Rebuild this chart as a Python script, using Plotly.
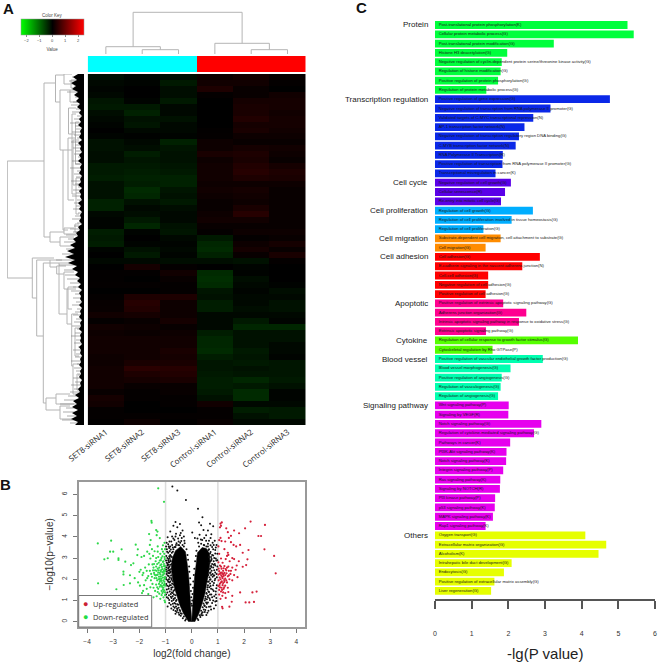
import plotly.graph_objects as go

W, H = 658, 663

# ---------- Panel C data ----------
group_names = ["Protein", "Transcription regulation", "Cell cycle", "Cell proliferation", "Cell migration",
               "Cell adhesion", "Apoptotic", "Cytokine", "Blood vessel", "Signaling pathway", "Others"]
group_colors = ["#00FF3C", "#0A28E8", "#5A00E8", "#00AEFF", "#FF8C00", "#FF0000",
                "#FF0090", "#55FF00", "#00FFB0", "#E600EE", "#E6FF00"]
protein_terms = ["Post-translational protein phosphorylation(K)", "Cellular protein metabolic process(G)",
                 "Post-translational protein modification(G)", "Histone H3 deacetylation(G)",
                 "Negative regulation of cyclin-dependent protein serine/threonine kinase activity(G)",
                 "Regulation of histone modification(G)", "Positive regulation of protein phosphorylation(G)",
                 "Regulation of protein metabolic process(G)"]
protein_vals = [5.25, 5.42, 3.24, 1.97, 1.82, 1.79, 1.72, 1.40]
transcription_terms = ["Positive regulation of gene expression(G)",
                       "Negative regulation of transcription from RNA polymerase II promoter(G)",
                       "Validated targets of C-MYC transcriptional repression(N)", "AP-1 transcription factor network(N)",
                       "Negative regulation of transcription regulatory region DNA binding(G)",
                       "C-MYB transcription factor network(N)", "RNA Polymerase II Transcription(R)",
                       "Positive regulation of transcription from RNA polymerase II promoter(G)",
                       "Transcriptional misregulation in cancer(K)"]
transcription_vals = [4.77, 3.15, 2.68, 2.44, 2.29, 2.20, 1.85, 1.84, 1.65]
cycle_terms = ["Negative regulation of cell growth(G)", "Cellular senescence(R)", "Re-entry into mitotic cell cycle(G)"]
cycle_vals = [2.07, 1.91, 1.80]
prolif_terms = ["Regulation of cell growth(G)", "Regulation of cell proliferation involved in tissue homeostasis(G)",
                "Regulation of cell proliferation(G)"]
prolif_vals = [2.67, 2.09, 1.32]
migration_terms = ["Substrate-dependent cell migration, cell attachment to substrate(G)", "Cell migration(G)"]
migration_vals = [1.79, 1.38]
adhesion_terms = ["Cell adhesion(G)", "E-cadherin signaling in the nascent adherens junction(N)", "Cell-cell adhesion(G)",
                  "Negative regulation of cell adhesion(G)", "Positive regulation of cell adhesion(G)"]
adhesion_vals = [2.86, 2.38, 1.45, 1.45, 1.38]
apoptotic_terms = ["Positive regulation of extrinsic apoptotic signaling pathway(G)", "Adherens junction organization(G)",
                   "Intrinsic apoptotic signaling pathway in response to oxidative stress(G)",
                   "Extrinsic apoptotic signaling pathway(G)"]
apoptotic_vals = [1.86, 2.49, 2.29, 1.39]
cytokine_terms = ["Regulation of cellular response to growth factor stimulus(G)", "Cytoskeletal regulation by Rho GTPase(P)"]
cytokine_vals = [3.90, 1.57]
vessel_terms = ["Positive regulation of vascular endothelial growth factor production(G)", "Blood vessel morphogenesis(G)",
                "Positive regulation of angiogenesis(G)", "Regulation of vasculogenesis(G)", "Regulation of angiogenesis(G)"]
vessel_vals = [2.94, 2.06, 1.82, 1.79, 1.72]
signaling_terms = ["Wnt signaling pathway(P)", "Signaling by VEGF(R)", "Notch signaling pathway(G)",
                   "Regulation of cytokine-mediated signaling pathway(G)", "Pathways in cancer(K)",
                   "PI3K-Akt signaling pathway(K)", "Notch signaling pathway(K)", "Integrin signaling pathway(P)",
                   "Ras signaling pathway(K)", "Signaling by NOTCH(R)", "PI3 kinase pathway(P)",
                   "p53 signaling pathway(K)", "MAPK signaling pathway(K)", "Rap1 signaling pathway(K)"]
signaling_vals = [2.01, 2.00, 2.90, 2.70, 2.05, 1.95, 1.94, 1.86, 1.78, 1.77, 1.64, 1.63, 1.58, 1.38]
others_terms = ["Oxygen transport(G)", "Extracellular matrix organization(G)", "Alcoholism(K)",
                "Intrahepatic bile duct development(G)", "Endocytosis(G)",
                "Positive regulation of extracellular matrix assembly(G)", "Liver regeneration(G)"]
others_vals = [4.10, 4.67, 4.46, 2.09, 1.88, 1.62, 1.53]

# ---------- Panel A data: one value per band of rows, top to bottom ----------
sample_names = ["SET8-siRNA1", "SET8-siRNA2", "SET8-siRNA3", "Control-siRNA1", "Control-siRNA2", "Control-siRNA3"]
set8_1 = [-.2,-.1,-.05,-.1,-.25,-.3,-.15,-.1,-.05,0,-.05,-.2,-.2,-.15,-.15,-.3,-.3,-.35,-.2,-.2,-.2,-.4,-.4,-.1,-.05,-.05,-.35,-.3,
          -.35,-.05,0,-.1,0,.03,.03,.05,0,.05,.08,.1,.2,.05,.2,.15,.2,.2,.2,.15,.15,.2,.2,.2,.2,.1,.25,.2,.05,.05,.02]
set8_2 = [-.1,-.05,0,0,-.05,-.3,-.4,-.2,-.25,-.1,-.02,-.1,-.15,-.35,-.25,-.3,-.35,-.4,-.35,-.5,-.45,-.2,-.1,-.15,-.3,-.45,-.05,0,
          -.05,-.2,-.3,-.1,.25,.03,0,.05,0,.35,.45,.4,.25,.1,.15,.12,.2,.2,.2,.2,.3,.5,.35,.25,.1,.05,.05,0,0,.05,.15]
set8_3 = [-.15,-.3,-.15,-.15,-.3,-.1,-.1,-.2,-.1,-.1,-.05,-.4,-.25,-.2,-.2,-.25,-.3,-.4,-.4,-.25,-.2,-.3,-.15,-.1,-.1,-.2,-.25,-.1,
          -.05,-.1,-.05,-.15,.05,.2,.1,.05,.05,.35,.15,.15,.15,.25,.1,.15,.2,.2,.3,.25,.3,.45,.4,.3,.1,.1,.05,.05,0,.05,.02]
ctrl_1 = [.15,.2,.35,.05,0,0,0,0,0,.03,.05,.15,.15,.3,.15,.2,.2,.2,.15,.2,.15,.1,.1,.15,.2,.1,.05,-.3,
          -.45,-.5,-.4,-.15,0,-.5,-.55,-.5,-.25,-.2,-.35,-.35,-.1,-.1,-.1,-.35,-.45,-.45,-.5,-.35,-.25,-.25,-.3,-.35,-.35,-.3,-.2,.2,.05,.05,.1]
ctrl_2 = [.25,.2,.1,.1,.25,.3,.3,.4,.25,.3,.15,.1,.25,.35,.3,.4,.45,.35,.15,.25,.2,.15,.3,.45,.2,.1,.15,.05,
          .15,.25,.1,-.2,-.05,-.03,-.15,-.1,-.05,-.1,-.1,-.15,-.1,-.3,-.45,-.2,-.2,-.2,-.3,-.25,-.3,-.2,-.25,-.45,-.3,-.5,-.5,-.1,-.35,-.2,-.1]
ctrl_3 = [.1,.05,0,.2,.25,.25,.2,.25,.25,.2,.15,.1,.2,.15,.1,.25,.35,.3,.15,.1,.1,.1,.1,.1,.1,.1,.15,.1,
          .25,.1,.3,.05,0,0,0,-.03,-.15,-.1,-.2,-.2,-.1,-.05,-.45,-.2,-.2,-.1,-.1,-.05,-.25,-.25,-.25,-.3,-.2,-.05,-.05,-.1,-.3,-.3,-.1]
group_flags = [0, 0, 0, 1, 1, 1]
key_ticks = [-2, -1, 0, 1, 2]

# column tree: left position, right position, merge height, left child height, right child height
col_merges = [(1, 2, 4.3, 0, 0), (0, 1.5, 7.3, 0, 4.3), (4, 5, 4.3, 0, 0), (3, 4.5, 10.7, 0, 4.3), (0.75, 3.75, 41.7, 7.3, 10.7)]
# row tree: merge height, upper position, lower position, upper child height, lower child height
row_merges = [(76.7,87,204,40,51.7),(40,9,163,28.5,34),(28.5,1,28,20,24),(24,16,76,14,21),(21,76,156,12,16),(20,0,10,12,6),
              (14,16,28,6,6),(12,40,120,8,8),(15.5,34,60,8,9),(16,64,126,8,10),(11,66,111,5,6),(8.5,48,90,5,4),(34,158,168,20,24),
              (24,163,172,10,12),(20,154,160,10,8),(51.7,184,224,30,47.3),(47.3,186,262,34,40.7),(34,186,193,22,27.3),
              (27.3,192,200,18,20),(20,198,215,10,16),(16,213,235,8,12),(40.7,189,329,25,38),(25,189,240,14,17),
              (38,324,336,28,24),(28,320,330,14,10),(24,332,345,14,12),(17,215,250,8,12.3),(12.3,240,292,6,11),
              (11,290,320,5,5),(9,150,158,5,6),(13,6,14,8,7),(9,254,282,4,5),(8,104,140,4,5),(7,300,316,4,4)]
row_depth = [6,11,7,13,8,12,6,10,5,8,4,7,3,5,2,5,3,6,2,4,3,5,2,6,3,4,2,5,3,6,2,4,3,5,2,4,3,6,2,5,3,4,2,6,3,5,2,4,3,5,
             2,6,4,8,6,11,8,14,9,17,10,19,9,16,7,12,6,9,4,7,3,6,2,5,3,4,2,5,2,4,3,5,2,4,3,5,2,4,3,4,2,5,3,4,2,4,3,5,2,4,
             3,5,2,4,3,6,4,9,5,11,7,12,6,12,7,13,6,9]
twig_pos = [3,7,12,18,23,28,31,35,38,42,45,49,52,55,58,61,64,68,71,74,77,80,83,87,90,94,97,100,103,107,110,113,116,119,122,126,129,
            132,135,139,142,145,149,152,155,158,161,165,168,171,175,180,186,191,196,201,205,209,213,217,220,224,228,231,235,238,241,
            245,248,252,255,259,262,266,269,273,276,280,283,287,290,294,297,301,304,308,311,315,318,322,326,330,334,338,342,346,349]
twig_len = [12,15,10,17,9,11,13,8,12,7,10,14,9,8,12,10,7,13,9,11,8,10,6,12,9,14,7,10,8,13,9,6,11,8,12,7,10,
            8,11,6,9,12,7,10,14,11,18,16,20,13,18,22,28,25,20,19,17,14,11,13,9,11,8,12,7,9,11,
            8,10,12,7,9,13,8,10,6,11,8,9,13,7,10,8,6,11,9,13,10,14,16,20,24,18,21,17,22,14]

# ---------- Panel B data: dense core outlines and the separately legible points ----------
core_left_x = [-.12,-.32,-.46,-.57,-.66,-.74,-.78,-.74,-.62,-.42,-.24,-.18,-.12,-.08,-.03,0]
core_left_y = [0,.4,.8,1.2,1.6,2.1,2.6,3.0,3.35,3.55,3.3,2.8,2.2,1.5,.7,0]
core_right_x = [.12,.28,.41,.5,.57,.65,.7,.68,.56,.4,.22,.16,.11,.07,.03,0]
core_right_y = [0,.4,.9,1.3,1.8,2.3,2.8,3.2,3.45,3.5,3.25,2.7,2.1,1.4,.7,0]
black_points = [(-.74,6.37),(-.55,6.18),(-.22,5.74),(.24,5.33),(.41,4.92),(.36,4.55),(-.62,4.7),(-.55,4.45),(-.7,4.52),(-.45,4.6),(-.35,4.3),(-.82,4.25),
    (-.6,4.15),(-.45,4.08),(-.75,4.02),(-.92,3.98),(-.52,3.92),(-.3,4.02),(-.66,3.85),(-.85,3.78),(-.4,3.8),(-.96,3.72),(-.58,3.7),(-.75,3.62),(-.48,3.6),
    (-.88,3.55),(-.65,3.52),(-.95,3.42),(-.8,3.4),(-.72,3.3),(-.9,3.25),(-.82,3.15),(-.97,3.1),(-.76,3.05),(-.88,2.95),(-.98,2.88),(-.8,2.85),(-.92,2.72),(-.76,2.72),
    (-.85,2.6),(-.97,2.55),(-.78,2.5),(-.9,2.42),(-.82,2.32),(-.96,2.25),(-.74,2.25),(-.88,2.15),(-.99,2.08),(-.78,2.05),(-.92,1.95),(-.72,1.92),(-.85,1.85),
    (-.97,1.78),(-.7,1.75),(-.88,1.66),(-.78,1.6),(-.95,1.52),(-.66,1.5),(-.84,1.42),(-.72,1.35),(-.98,1.28),(-.62,1.25),(-.8,1.18),(-.9,1.1),(-.68,1.08),(-.58,1.02),
    (-.76,.98),(-.86,.88),(-.62,.85),(-.52,.8),(-.7,.72),(-.78,.62),(-.56,.62),(-.46,.55),(-.62,.5),(-.42,.4),
    (.02,4.2),(.28,4.68),(.45,4.32),(.62,4.3),(.7,4.62),(.82,4.5),(.3,4.1),(.55,4.08),(.12,3.95),(.72,3.95),(.4,3.85),(.88,3.82),(.25,3.72),(.62,3.68),(.95,3.62),(.48,3.6),
    (.78,3.52),(.66,3.42),(.9,3.38),(.72,3.28),(.98,3.2),(.82,3.12),(.66,3.05),(.92,2.98),(.75,2.9),(.68,2.78),(.88,2.72),(.98,2.6),(.75,2.58),(.66,2.48),(.86,2.42),
    (.72,2.32),(.95,2.25),(.64,2.2),(.8,2.12),(.9,2.02),(.7,1.98),(.62,1.88),(.85,1.82),(.96,1.72),(.72,1.68),(.6,1.62),(.8,1.52),(.92,1.42),(.66,1.4),(.56,1.35),
    (.75,1.28),(.86,1.2),(.62,1.15),(.52,1.08),(.7,1.02),(.95,.98),(.78,.88),(.58,.85),(.48,.78),(.66,.7),(.85,.62),(.74,.58),(.52,.55),(.42,.45),(.6,.42),(.36,.32),(.9,.95)]
edge_points = [(-.8,3.1),(-.84,3.0),(-.82,2.9),(-.86,2.8),(-.81,2.68),(-.88,2.55),(-.83,2.45),(-.8,2.35),(-.86,2.28),(-.79,2.18),(-.84,2.08),(-.77,1.98),(-.82,1.9),(-.75,1.8),(-.8,1.72),(-.73,1.62),(-.78,1.52),(-.7,1.45),
    (-.76,1.38),(-.68,1.28),(-.73,1.2),(-.64,1.12),(-.7,1.02),(-.6,.98),(-.66,.88),(-.55,.82),(-.6,.72),(-.5,.66),(-.55,.55),(-.44,.5),(-.5,.42),(-.38,.38),(-.42,.28),(-.3,.25),(-.34,.16),(-.22,.12),(-.25,.06),
    (-.76,3.25),(-.7,3.42),(-.62,3.52),(-.52,3.62),(-.44,3.72),(-.35,3.62),(-.6,3.62),(-.72,3.5),(-.84,3.32),(-.9,2.9),(-.93,2.65),(-.9,2.3),(-.87,2.0),(-.84,1.72),(-.8,1.3),(-.77,1.12),(-.72,.85),(-.65,.66),(-.57,.46),(-.48,.33),
    (-.3,3.55),(-.27,3.7),(-.2,3.42),(-.16,3.15),(-.14,2.92),(-.1,2.6),(-.09,2.35),(-.06,2.05),(-.05,1.75),(-.03,1.45),(-.02,1.15),(-.01,.85),
    (.74,3.05),(.76,2.95),(.72,2.85),(.78,2.72),(.74,2.62),(.71,2.5),(.76,2.4),(.7,2.3),(.74,2.2),(.68,2.1),(.72,2.0),(.65,1.9),(.7,1.8),(.62,1.72),(.67,1.62),(.6,1.52),(.64,1.42),(.57,1.32),
    (.62,1.22),(.53,1.18),(.58,1.06),(.5,1.0),(.55,.9),(.45,.86),(.5,.74),(.42,.68),(.46,.58),(.36,.52),(.38,.4),(.3,.3),(.33,.22),(.22,.14),(.25,.08),
    (.7,3.22),(.64,3.38),(.56,3.55),(.46,3.62),(.36,3.68),(.28,3.55),(.62,3.55),(.78,3.15),(.84,2.85),(.82,2.55),(.8,2.25),(.78,1.9),(.74,1.55),(.7,1.28),(.68,1.1),(.62,.9),(.56,.68),(.5,.46),(.42,.3),
    (.18,3.35),(.16,3.1),(.13,2.85),(.1,2.5),(.08,2.2),(.06,1.9),(.05,1.6),(.03,1.3),(.02,1.0),(.01,.75)]
outer_cloud_points = [(-.86,3.48),(-.94,3.3),(-.86,3.08),(-.93,3.0),(-.95,2.78),(-.88,2.68),(-.98,2.45),(-.9,2.52),(-.95,2.36),(-.92,2.18),(-.97,2.0),(-.9,1.88),(-.94,1.7),(-.88,1.55),(-.93,1.38),(-.87,1.25),(-.95,1.15),(-.86,1.02),(-.8,.8),
    (-.92,.72),(-.7,.55),(-.62,.38),(-.86,2.4),(-.88,2.82),(-.82,3.55),(-.78,3.78),(-.7,3.92),(-.62,4.02),(-.9,3.65),(-.98,3.55),(-.5,3.78),(-.38,3.95),(-.28,3.82),(-.42,4.18),
    (.82,3.42),(.9,3.22),(.86,3.0),(.94,2.88),(.9,2.65),(.84,2.68),(.96,2.45),(.9,2.32),(.84,2.18),(.96,2.1),(.88,1.95),(.82,1.72),(.94,1.58),(.84,1.45),(.92,1.28),(.78,1.15),(.94,1.12),(.82,1.0),(.72,.72),(.92,.78),(.64,.52),(.56,.32),
    (.72,3.6),(.8,3.72),(.55,3.82),(.48,3.95),(.35,3.88),(.22,3.92),(.66,3.82),(.84,3.62),(.75,4.12),(.92,3.5),(.98,2.9),(.86,2.18)]
green_points = [(-1.28,6.29),(-1.06,5.65),(-1.54,4.75),(-1.53,4.67),(-1.36,4.32),(-1.31,4.25),(-1.63,4.13),(-1.34,4.08),(-1.22,3.94),(-1.57,3.85),(-1.6,3.62),(-1.1,3.6),(-1.3,3.55),
    (-3.59,3.69),(-3.08,3.82),(-3.12,3.3),(-3.0,3.3),(-3.34,2.94),(-3.21,2.99),(-2.8,2.99),(-2.8,2.91),(-2.68,3.41),(-2.54,2.83),(-3.58,1.81),(-2.88,1.53),(-2.61,2.36),(-2.61,2.23),(-2.6,1.73),
    (-2.36,2.19),(-2.36,1.81),(-2.32,2.67),(-2.23,2.75),(-2.14,3.63),(-2.06,3.41),(-2.08,3.14),(-2.0,2.35),(-1.95,2.45),(-1.88,2.2),(-1.92,3.05),(-1.82,3.1),(-1.85,2.3),(-1.78,2.55),(-1.76,1.95),
    (-1.98,1.7),(-1.72,1.55),(-1.86,1.45),(-2.05,1.85),(-1.9,1.35),(-1.66,1.3),(-1.62,3.2),(-1.7,3.3),(-1.58,2.98),(-1.64,2.7),(-1.72,2.4),(-1.66,2.15),(-1.6,2.4),(-1.55,2.25),(-1.52,3.42),(-1.48,3.1),
    (-1.5,2.7),(-1.46,2.55),(-1.44,2.3),(-1.42,2.05),(-1.56,1.95),(-1.5,1.78),(-1.46,1.6),(-1.42,3.32),(-1.38,2.85),(-1.36,2.6),(-1.34,2.4),(-1.38,2.18),(-1.32,1.95),(-1.36,1.75),(-1.4,1.45),(-1.34,1.2),
    (-1.3,3.3),(-1.28,3.05),(-1.26,2.78),(-1.24,2.55),(-1.28,2.32),(-1.25,2.12),(-1.22,1.88),(-1.28,1.55),(-1.24,1.32),(-1.2,3.2),(-1.18,2.9),(-1.2,2.66),(-1.16,2.45),(-1.2,2.22),(-1.16,2.02),(-1.18,1.72),(-1.15,1.45),
    (-1.2,1.08),(-1.14,3.42),(-1.12,3.08),(-1.1,2.82),(-1.14,2.58),(-1.09,2.35),(-1.12,2.18),(-1.08,1.95),(-1.13,1.82),(-1.08,1.6),(-1.12,1.35),(-1.08,1.15),(-1.04,3.72),(-1.05,3.2),(-1.03,2.95),(-1.06,2.72),(-1.03,2.5),
    (-1.05,2.28),(-1.02,2.1),(-1.05,1.88),(-1.02,1.7),(-1.05,1.48),(-1.02,1.25),(-1.04,1.0),(-1.02,.92),(-1.18,2.38),(-1.26,2.0),(-1.33,2.2),(-1.4,2.42),(-1.12,2.48),(-1.08,2.22),(-1.22,2.3),(-1.3,2.5),(-1.16,2.7),(-1.06,2.62),
    (-1.1,2.08),(-1.15,1.92),(-1.04,1.78),(-1.22,1.65),(-1.08,1.42),(-1.3,1.4),(-1.58,1.62),(-1.7,2.05),(-1.82,1.72),(-2.18,2.05),(-1.46,1.15),(-1.58,1.1),(-1.12,1.62),
    (-1.02,2.38),(-1.03,2.02),(-1.07,1.72),(-1.1,1.52),(-1.02,1.38),(-1.15,1.25),(-1.06,2.42),(-1.12,2.32),(-1.18,2.12),(-1.22,2.02),(-1.26,2.42),(-1.3,2.22),(-1.35,2.05),(-1.42,2.22),(-1.48,2.42),(-1.2,1.95),(-1.25,1.78),
    (-1.32,1.62),(-1.14,1.68),(-1.08,2.85),(-1.22,2.88),(-1.32,2.72),(-1.02,2.62),(-1.04,3.05),(-1.44,2.72),(-1.52,2.12),(-1.16,3.0),(-1.02,3.42),(-1.1,3.3),(-1.36,3.0)]
red_points = [(3.21,2.28),(3.15,3.1),(2.78,3.41),(2.8,4.56),(2.25,4.72),(2.55,4.04),(2.65,4.04),(2.04,4.4),(1.81,4.17),(1.85,3.62),(1.95,3.25),(2.17,3.38),(2.13,2.94),(2.08,2.67),(1.95,2.59),(1.8,2.85),
    (2.32,1.38),(2.48,1.42),(2.06,.91),(2.2,.91),(2.38,.93),(1.85,1.38),(1.53,.94),(1.44,.71),(1.18,.63),(1.16,.7),(1.1,4.62),(1.15,4.68),(1.08,4.45),(1.12,4.52),(1.32,4.4),(1.38,4.22),(1.5,4.05),(1.62,4.3),
    (1.1,3.95),(1.05,3.85),(1.14,3.8),(1.42,3.95),(1.5,3.75),(1.28,3.78),(1.6,3.62),(1.7,3.55),(1.02,3.55),(1.25,3.42),(1.38,3.25),(1.35,3.1),(1.4,3.15),(1.55,3.0),(1.62,2.95),(1.72,2.65),(1.68,2.45),
    (1.05,3.2),(1.12,2.98),(1.3,2.95),(1.45,2.85),(1.02,2.8),(1.18,2.78),(1.08,2.65),(1.25,2.62),(1.4,2.6),(1.55,2.55),(1.62,2.2),(1.75,2.1),(1.03,2.5),(1.14,2.5),(1.3,2.48),(1.42,2.4),(1.05,2.38),(1.2,2.4),
    (1.1,2.3),(1.17,2.28),(1.25,2.3),(1.33,2.28),(1.48,2.25),(1.02,2.22),(1.13,2.18),(1.22,2.16),(1.38,2.14),(1.55,1.95),(1.07,2.08),(1.18,2.05),(1.28,2.03),(1.44,2.0),(1.03,1.95),(1.15,1.9),(1.25,1.88),
    (1.35,1.85),(1.08,1.8),(1.18,1.72),(1.28,1.7),(1.02,1.68),(1.14,1.6),(1.22,1.55),(1.38,1.6),(1.05,1.5),(1.12,1.42),(1.2,1.38),(1.28,1.35),(1.4,1.4),(1.05,1.28),(1.17,1.22),(1.55,1.22),(1.3,1.12),(1.1,1.08),
    (1.08,2.25),(1.14,2.32),(1.2,2.24),(1.28,2.2),(1.16,2.12),(1.1,2.0),(1.24,1.96),(1.32,1.95),(1.12,1.85),(1.2,1.82),(1.06,1.72),(1.24,1.62),(1.16,1.5),(1.08,1.62),(1.32,2.42),(1.22,2.52),(1.12,2.6),(1.35,2.55),(1.5,2.4),(1.42,2.18)]


def unzip(pts):
    return [p[0] for p in pts], [p[1] for p in pts]


def xdom(a, b):
    return [a / W, b / W]


def ydom(top, bottom):
    return [1 - bottom / H, 1 - top / H]


fig = go.Figure()
SANS = "Liberation Sans"


def page_text(text, x, y, size, color="#333", family=SANS, xanchor="center"):
    return dict(text=text, xref="paper", yref="paper", x=x / W, y=1 - y / H, xanchor=xanchor, yanchor="middle",
                showarrow=False, font=dict(size=size, color=color, family=family))


# ---------- Panel C ----------
term_groups = [protein_terms, transcription_terms, cycle_terms, prolif_terms, migration_terms, adhesion_terms,
               apoptotic_terms, cytokine_terms, vessel_terms, signaling_terms, others_terms]
val_groups = [protein_vals, transcription_vals, cycle_vals, prolif_vals, migration_vals, adhesion_vals,
              apoptotic_vals, cytokine_vals, vessel_vals, signaling_vals, others_vals]
terms, vals, cols = [], [], []
for t, v, c in zip(term_groups, val_groups, group_colors):
    terms += t
    vals += v
    cols += [c] * len(t)
fig.add_trace(go.Bar(y=terms, x=vals, orientation="h", marker=dict(color=cols, line_width=0), width=0.84,
                     xaxis="x", yaxis="y", showlegend=False))
fig.add_trace(go.Scatter(y=terms, x=[0.1] * len(terms), mode="text", text=terms, textposition="middle right",
                         textfont=dict(size=4.2, color="#1a1a1a", family=SANS), xaxis="x", yaxis="y",
                         showlegend=False, cliponaxis=False))
annots = []
for name, t in zip(group_names, term_groups):
    annots.append(dict(text=name, xref="paper", yref="y", x=430 / W, y=t[0], xanchor="right", yanchor="middle",
                       showarrow=False, font=dict(size=8, color="#222", family=SANS)))
annots.append(page_text("-lg(P value)", 545, 653, 15, "#222"))

# ---------- Panel A ----------
display_gain = 0.8
z = [[v * display_gain for v in r] for r in zip(set8_1, set8_2, set8_3, ctrl_1, ctrl_2, ctrl_3)]
key_scale = [[0, "#00FF00"], [0.5, "#000000"], [1, "#FF0000"]]
fig.add_trace(go.Heatmap(z=z, x=list(range(6)), y=list(range(len(z))), zmin=-2.44, zmax=2.44, colorscale=key_scale,
                         xaxis="x2", yaxis="y2", showlegend=False,
                         colorbar=dict(orientation="h", lenmode="pixels", len=62.6, thicknessmode="pixels", thickness=16,
                                       x=20.7 / W, xanchor="left", y=1 - 19 / H, yanchor="top", xpad=0, ypad=0,
                                       tickvals=key_ticks, ticks="outside", ticklen=2, tickcolor="#888", tickwidth=0.5,
                                       tickfont=dict(size=4, family=SANS, color="#444"), outlinecolor="#999", outlinewidth=0.5,
                                       title=dict(text="Value", side="bottom", font=dict(size=4.5, family=SANS, color="#444")))))
fig.add_trace(go.Heatmap(z=[group_flags], x=list(range(6)), y=[0], zmin=0, zmax=1, showscale=False,
                         colorscale=[[0, "#00FFFF"], [1, "#FF0000"]], xaxis="x3", yaxis="y3"))
annots.append(page_text("Color Key", 52, 15, 4.5, "#444"))

# column tree
tx, ty = [], []
for lo, hi, h, hl, hh in col_merges:
    tx += [lo, lo, hi, hi, None]
    ty += [hl, h, h, hh, None]
fig.add_trace(go.Scatter(x=tx, y=ty, mode="lines", line=dict(color="#b4b4b4", width=1), xaxis="x4", yaxis="y4", showlegend=False))

# row tree
rx, ry = [], []
for h, p1, p2, c1, c2 in row_merges:
    rx += [c1, h, h, c2, None]
    ry += [p1, p1, p2, p2, None]
fig.add_trace(go.Scatter(x=rx, y=ry, mode="lines", line=dict(color="#b4b4b4", width=1), xaxis="x5", yaxis="y5", showlegend=False))
wx, wy = [], []
for p, l in zip(twig_pos, twig_len):
    wx += [0, l, None]
    wy += [p, p, None]
fig.add_trace(go.Scatter(x=wx, y=wy, mode="lines", line=dict(color="#8a8a8a", width=0.7), xaxis="x5", yaxis="y5", showlegend=False))
pos_vals = [i * 351 / (len(row_depth) - 1) for i in range(len(row_depth))]
fig.add_trace(go.Scatter(x=row_depth, y=pos_vals, mode="lines", line=dict(color="#000", width=0),
                         fill="tozerox", fillcolor="#000", xaxis="x5", yaxis="y5", showlegend=False))

# ---------- Panel B ----------
for v in (-1, 1):
    fig.add_trace(go.Scatter(x=[v, v], y=[-0.25, 6.6], mode="lines", line=dict(color="#dcdcdc", width=1.5),
                             xaxis="x6", yaxis="y6", showlegend=False))
for cx, cy in ((core_left_x, core_left_y), (core_right_x, core_right_y)):
    fig.add_trace(go.Scatter(x=cx, y=cy, mode="lines", fill="toself", fillcolor="#000", line=dict(color="#000", width=0.5),
                             xaxis="x6", yaxis="y6", showlegend=False))
for pts, c, s, n in ((black_points + edge_points + outer_cloud_points, "#111111", 2, "Other"), (green_points, "#2ED84A", 2.2, "Down-regulated"), (red_points, "#D5203A", 2.2, "Up-regulated")):
    px, py = unzip(pts)
    fig.add_trace(go.Scatter(x=px, y=py, mode="markers", marker=dict(color=c, size=s, line_width=0), name=n,
                             xaxis="x6", yaxis="y6", showlegend=False))

shapes = [dict(type="rect", xref="paper", yref="paper", x0=78.7 / W, x1=151.7 / W, y0=1 - 627 / H, y1=1 - 595.5 / H,
               fillcolor="#fff", line=dict(color="#777", width=1), layer="above")]
for text, yy, col in (("Up-regulated", 603.5, "#CC2233"), ("Down-regulated", 617, "#22DD44")):
    annots.append(page_text("●", 85.5, yy, 9, col))
    annots.append(page_text(text, 90.5, yy, 7.4, "#333", "Open Sans", "left"))
for t, x, y in (("A", 8, 9), ("B", 5, 485), ("C", 361, 8)):
    annots.append(page_text("<b>%s</b>" % t, x, y, 15, "#111"))

hide = dict(showticklabels=False, showgrid=False, zeroline=False, showline=False, ticks="")
fig.update_layout(
    width=W, height=H, margin=dict(l=0, r=0, t=0, b=0, autoexpand=False), autosize=False, paper_bgcolor="#fff", plot_bgcolor="#fff",
    font=dict(family=SANS), annotations=annots, shapes=shapes, showlegend=False, bargap=0.16,
    xaxis=dict(domain=xdom(435, 655), range=[0, 6], anchor="free", position=1 - 600 / H, side="bottom", tickvals=[0, 1, 2, 3, 4, 5, 6],
               showgrid=False, zeroline=False, showline=True, linecolor="#555", linewidth=1.5, ticks="outside", ticklen=8, tickcolor="#555", tickwidth=1.5,
               tickfont=dict(size=7, color="#333", family=SANS), ticklabelstandoff=19),
    yaxis=dict(domain=ydom(20.36, 595.6), range=[len(terms) - 0.5, -0.5], categoryorder="array", categoryarray=terms, anchor="x", **hide),
    xaxis2=dict(domain=xdom(87.7, 305.7), range=[-0.5, 5.5], anchor="y2", tickmode="array", tickvals=list(range(6)), ticktext=sample_names, tickangle=-38,
                ticks="", showgrid=False, zeroline=False, showline=False, tickfont=dict(size=8, color="#222", family="Open Sans")),
    yaxis2=dict(domain=ydom(74, 425), range=[len(z) - 0.5, -0.5], anchor="x2", **hide),
    xaxis3=dict(domain=xdom(87.7, 305.7), range=[-0.5, 5.5], anchor="y3", **hide),
    yaxis3=dict(domain=ydom(56, 72.3), range=[-0.5, 0.5], anchor="x3", **hide),
    xaxis4=dict(domain=xdom(87.7, 305.7), range=[-0.5, 5.5], anchor="y4", **hide),
    yaxis4=dict(domain=ydom(8, 54), range=[0, 46], anchor="x4", **hide),
    xaxis5=dict(domain=xdom(7, 84), range=[77, 0], anchor="y5", **hide),
    yaxis5=dict(domain=ydom(74, 425), range=[351, 0], anchor="x5", **hide),
    xaxis6=dict(domain=xdom(78.7, 305), range=[-4.32, 4.33], anchor="y6", tickvals=[-4, -3, -2, -1, 0, 1, 2, 3, 4], ticktext=["\u22124", "\u22123", "\u22122", "\u22121", "0", "1", "2", "3", "4"],
                showgrid=False, zeroline=False, showline=True, mirror=True, linecolor="#999", linewidth=1.5, ticks="outside", ticklen=4, tickcolor="#777",
                tickfont=dict(size=6.5, color="#333", family=SANS), ticklabelstandoff=3,
                title=dict(text="log2(fold change)", standoff=6, font=dict(size=10, color="#333", family=SANS))),
    yaxis6=dict(domain=ydom(481.7, 627), range=[-0.25, 6.6], anchor="x6", tickvals=[0, 1, 2, 3, 4, 5, 6], tickangle=-90,
                showgrid=False, zeroline=False, showline=True, mirror=True, linecolor="#999", linewidth=1.5, ticks="outside", ticklen=4, tickcolor="#777",
                tickfont=dict(size=6.5, color="#333", family=SANS), ticklabelstandoff=3,
                title=dict(text="\u2212log10(p\u2212value)", standoff=6, font=dict(size=10, color="#333", family=SANS))),
)
fig.write_html("out.html", config={"displayModeBar": False},
               post_script="document.body.style.margin='0';document.body.style.overflow='hidden';")
